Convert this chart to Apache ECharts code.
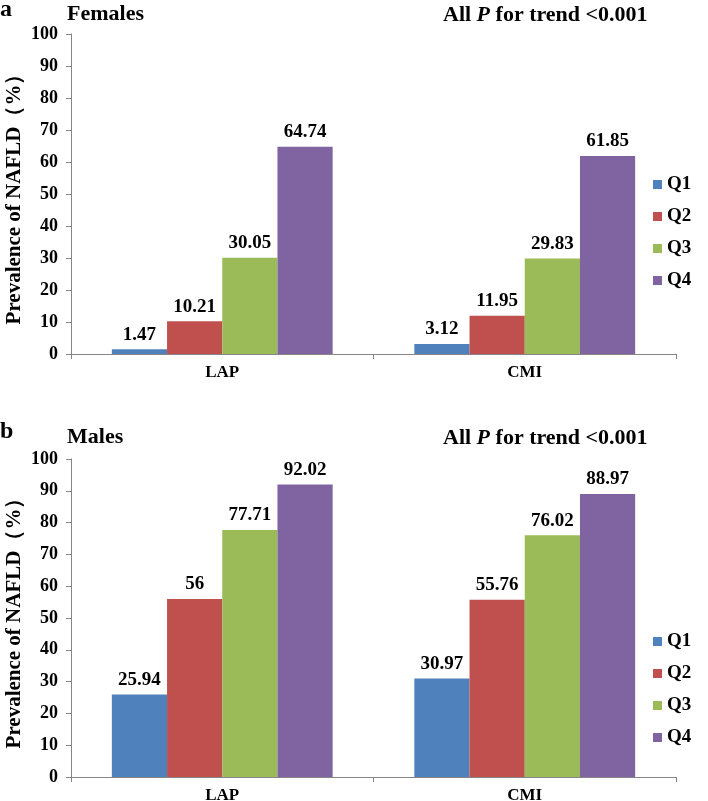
<!DOCTYPE html>
<html>
<head>
<meta charset="utf-8">
<script src="https://cdn.jsdelivr.net/npm/echarts@6/dist/echarts.min.js"></script>
<style>html,body{margin:0;padding:0;background:#fff}#c{width:708px;height:801px}</style>
</head>
<body>
<div id="c"></div>
<script>
const categories = ['LAP', 'CMI'];
const seriesNames = ['Q1', 'Q2', 'Q3', 'Q4'];
const femalesQ1 = [1.47, 3.12];
const femalesQ2 = [10.21, 11.95];
const femalesQ3 = [30.05, 29.83];
const femalesQ4 = [64.74, 61.85];
const malesQ1 = [25.94, 30.97];
const malesQ2 = [56, 55.76];
const malesQ3 = [77.71, 76.02];
const malesQ4 = [92.02, 88.97];
const colors = ['#4F81BD', '#C0504D', '#9BBB59', '#8064A2'];

const FONT = "'Liberation Serif', 'Times New Roman', serif";
const axisColor = '#868686';

function makeX(gi) {
  return {
    type: 'category', gridIndex: gi, data: categories,
    axisLine: { lineStyle: { color: axisColor, width: 1 } },
    axisTick: { show: true, length: 5, lineStyle: { color: axisColor } },
    axisLabel: { fontFamily: FONT, fontWeight: 'bold', fontSize: 17, color: '#000', margin: 10 }
  };
}
function makeY(gi) {
  return {
    type: 'value', gridIndex: gi, min: 0, max: 100, interval: 10,
    name: 'Prevalence of NAFLD（%）', nameLocation: 'middle', nameGap: 46, nameMoveOverlap: false,
    nameTextStyle: { fontFamily: FONT, fontWeight: 'bold', fontSize: 21, color: '#000' },
    axisLine: { show: true, lineStyle: { color: axisColor, width: 1 } },
    axisTick: { show: true, length: 5, lineStyle: { color: axisColor } },
    splitLine: { show: false },
    axisLabel: { fontFamily: FONT, fontWeight: 'bold', fontSize: 18, color: '#000', margin: 13 }
  };
}
function makeSeries(name, data, gi, ci) {
  return {
    name: name, type: 'bar', xAxisIndex: gi, yAxisIndex: gi, data: data,
    barGap: '0%', barCategoryGap: '27%',
    itemStyle: { color: colors[ci] },
    label: { show: true, position: 'top', distance: 5, fontFamily: FONT, fontWeight: 'bold', fontSize: 19, color: '#000' }
  };
}
const fem = [femalesQ1, femalesQ2, femalesQ3, femalesQ4];
const mal = [malesQ1, malesQ2, malesQ3, malesQ4];
const series = [];
fem.forEach((d, i) => series.push(makeSeries(seriesNames[i], d, 0, i)));
mal.forEach((d, i) => series.push(makeSeries(seriesNames[i], d, 1, i)));

function legend(top) {
  return {
    data: seriesNames, orient: 'vertical', left: 648, top: top,
    itemWidth: 9, itemHeight: 9, itemGap: 13, icon: 'rect', selectedMode: false,
    textStyle: { fontFamily: FONT, fontWeight: 'bold', fontSize: 19, color: '#000' }
  };
}
function titleRich() {
  return { p: { fontFamily: FONT, fontWeight: 'bold', fontStyle: 'italic', fontSize: 22, color: '#000' },
           n: { fontFamily: FONT, fontWeight: 'bold', fontSize: 22, color: '#000' } };
}
const chart = echarts.init(document.getElementById('c'), null, { renderer: 'canvas' });
chart.setOption({
  animation: false,
  backgroundColor: '#fff',
  title: [
    { text: 'a', left: -5, top: -7, textStyle: { fontFamily: FONT, fontWeight: 'bold', fontSize: 24, color: '#000' } },
    { text: 'Females', left: 62, top: -2, textStyle: { fontFamily: FONT, fontWeight: 'bold', fontSize: 22, color: '#000' } },
    { text: '{n|All }{p|P}{n| for trend <0.001}', left: 438, top: -1, textStyle: { rich: titleRich() } },
    { text: 'b', left: -5, top: 415, textStyle: { fontFamily: FONT, fontWeight: 'bold', fontSize: 24, color: '#000' } },
    { text: 'Males', left: 62, top: 421, textStyle: { fontFamily: FONT, fontWeight: 'bold', fontSize: 22, color: '#000' } },
    { text: '{n|All }{p|P}{n| for trend <0.001}', left: 438, top: 422, textStyle: { rich: titleRich() } }
  ],
  legend: [legend(170), legend(627)],
  grid: [
    { left: 71, right: 32, top: 34, height: 320, containLabel: false, outerBoundsMode: 'none' },
    { left: 71, right: 32, top: 459, height: 318, containLabel: false, outerBoundsMode: 'none' }
  ],
  xAxis: [makeX(0), makeX(1)],
  yAxis: [makeY(0), makeY(1)],
  series: series
});
</script>
</body>
</html>
